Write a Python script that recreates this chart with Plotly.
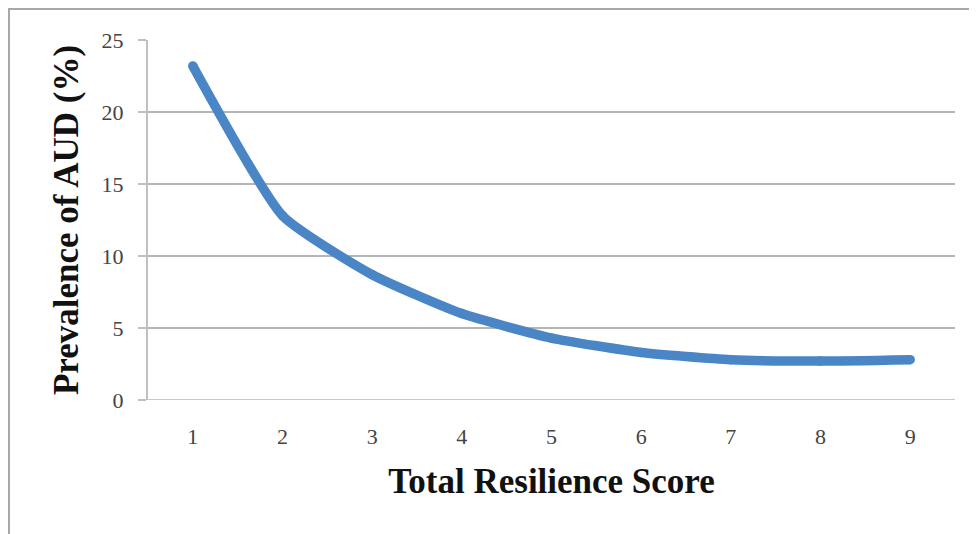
import plotly.graph_objects as go

scores = [1, 2, 3, 4, 5, 6, 7, 8, 9]
prevalence = [23.2, 12.8, 8.7, 6.0, 4.3, 3.3, 2.8, 2.7, 2.8]
y_ticks = [0, 5, 10, 15, 20, 25]

fig = go.Figure()
fig.add_trace(go.Scatter(
    x=scores, y=prevalence, mode="lines+markers",
    line=dict(color="#4A86C5", width=9.5, shape="spline", smoothing=0.5),
    marker=dict(color="#4A86C5", size=9.5, line=dict(width=0)),
    hoverinfo="skip", showlegend=False,
))

fig.update_layout(
    width=969, height=526,
    margin=dict(l=140, r=22, t=32, b=134),
    paper_bgcolor="white", plot_bgcolor="white",
    font=dict(family="Liberation Serif, Times New Roman, serif", color="#444444"),
    xaxis=dict(
        range=[0.5, 9.5], tickvals=scores, ticktext=[str(s) for s in scores],
        showgrid=False, zeroline=False, showline=False,
        ticks="", tickfont=dict(size=22, color="#444444"), ticklabelstandoff=21,
        title=dict(text="<b>Total Resilience Score</b>",
                   font=dict(size=35, color="#111111"), standoff=20),
    ),
    yaxis=dict(
        range=[0, 25], tickvals=y_ticks, ticktext=[str(v) for v in y_ticks],
        showgrid=True, gridcolor="#B5B5B5", gridwidth=1.5,
        zeroline=False, showline=True, linecolor="#C0C0C0", linewidth=2,
        ticks="outside", ticklen=8, tickcolor="#C0C0C0", tickwidth=1.5,
        tickfont=dict(size=22, color="#444444"), ticklabelstandoff=10,
        title=dict(text="<b>Prevalence of AUD (%)</b>",
                   font=dict(size=35, color="#111111"), standoff=12),
    ),
    shapes=[
        dict(type="line", xref="paper", yref="y", x0=0, x1=1, y0=0, y1=0,
             line=dict(color="#B5B5B5", width=1.5), layer="below"),
        dict(type="line", xref="paper", yref="paper",
             x0=-140/807, x1=1 + 22/807, y0=1 + 31/360, y1=1 + 31/360,
             line=dict(color="#A8A8A8", width=2)),
        dict(type="line", xref="paper", yref="paper",
             x0=-139/807, x1=-139/807, y0=1 + 31/360, y1=-134/360,
             line=dict(color="#A8A8A8", width=2)),
    ],
)

fig.write_html("out.html")
